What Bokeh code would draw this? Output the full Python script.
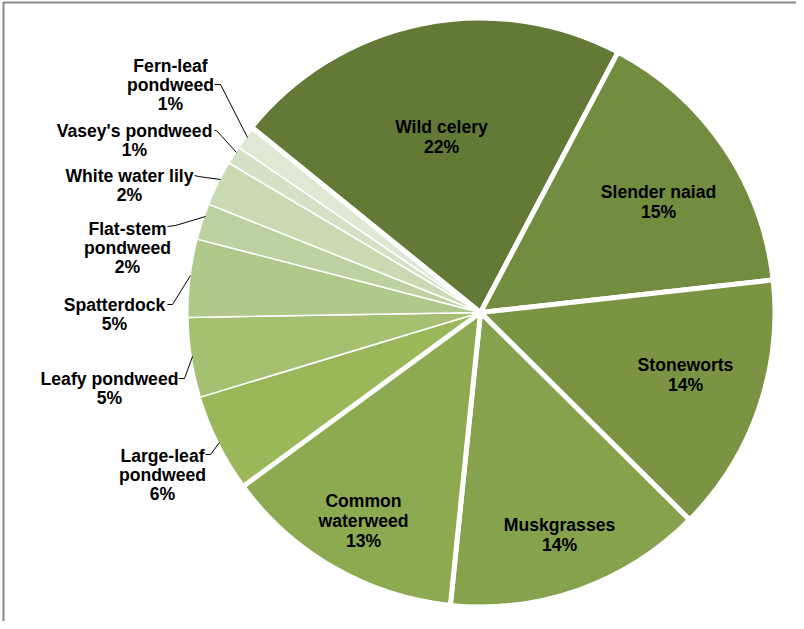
import numpy as np
from bokeh.plotting import figure
from bokeh.models import Range1d
from bokeh.embed import file_html
from bokeh.resources import INLINE
from bokeh.core.properties import value

# ---- data ----
species = ["Wild celery", "Slender naiad", "Stoneworts", "Muskgrasses",
           "Common waterweed", "Large-leaf pondweed", "Leafy pondweed",
           "Spatterdock", "Flat-stem pondweed", "White water lily",
           "Vasey's pondweed", "Fern-leaf pondweed"]
shares = [21.9, 15.5, 14.2, 14.2, 13.3, 5.4, 4.4, 4.3, 2.0, 2.5, 1.0, 1.3]
pct_labels = ["22%", "15%", "14%", "14%", "13%", "6%", "5%", "5%", "2%", "2%", "1%", "1%"]
name_lines = [["Wild celery"], ["Slender naiad"], ["Stoneworts"], ["Muskgrasses"],
              ["Common", "waterweed"], ["Large-leaf", "pondweed"], ["Leafy pondweed"],
              ["Spatterdock"], ["Flat-stem", "pondweed"], ["White water lily"],
              ["Vasey's pondweed"], ["Fern-leaf", "pondweed"]]

# ---- styles / layout ----
colors = ["#637A37", "#728C40", "#7A9444", "#86A24D", "#8EAA50", "#9AB75A",
          "#A5C070", "#B0C88A", "#BDD2A1", "#C9DAB2", "#D4E1C4", "#DFE8D5"]
thick = [True, True, True, True, True, False, False, False, False, False, False, False]
first_angle = 309.0  # degrees clockwise from 12 o'clock

W, H = 796, 621
def X(px): return px - 8
def Y(py): return 629 - py

cx, cy, R = X(488), Y(320), 292.0

# label anchor (page px): center x, first baseline y
label_pos = [(449, 134), (666, 199), (693, 372), (567, 532), (371, 508),
             (170, 463), (117, 386), (122, 312), (135, 236), (137, 183),
             (142, 138), (178, 73)]
inside = [True, True, True, True, True, False, False, False, False, False, False, False]
leaders = {
    5: [(213, 462), (218, 462), (227, 450)],
    6: [(186, 386), (192, 386), (200, 364)],
    7: [(175, 312), (180, 312), (198, 283)],
    8: [(175, 234), (183, 233), (213, 224)],
    9: [(202, 183), (206, 184), (228, 187)],
    10: [(222, 138), (224, 138), (244, 160)],
    11: [(222, 92), (228, 92), (255, 145)],
}

p = figure(width=W, height=H, output_backend="svg", toolbar_location=None,
           x_range=Range1d(0, W), y_range=Range1d(0, H), min_border=0)
p.axis.visible = False
p.grid.visible = False
p.outline_line_color = None
p.background_fill_color = "white"

# frame (top and left edges visible in the window)
p.line([X(11), X(11), W + 5], [-5, Y(10), Y(10)], line_color="#878787", line_width=2)

vals = np.array(shares, dtype=float)
frac = vals / vals.sum()
cum = np.concatenate([[0.0], np.cumsum(frac)]) * 360.0
theta_start = first_angle + cum[:-1]
theta_end = first_angle + cum[1:]
# convert clockwise-from-north to Bokeh (counter-clockwise from +x)
start_rad = np.deg2rad(90.0 - theta_end)
end_rad = np.deg2rad(90.0 - theta_start)

order = [i for i in range(len(species)) if not thick[i]] + [i for i in range(len(species)) if thick[i]]
for i in order:
    lw = 5.0 if thick[i] else 1.5
    p.wedge(x=cx, y=cy, radius=R + lw / 2.0, start_angle=start_rad[i], end_angle=end_rad[i],
            fill_color=colors[i], line_color="white", line_width=lw)

# leader lines
for i, pts in leaders.items():
    p.line([X(a) for a, b in pts], [Y(b) for a, b in pts], line_color="black", line_width=1)

# labels
font = value("Liberation Sans")
for i in range(len(species)):
    lx, ly = label_pos[i]
    lines = name_lines[i] + [pct_labels[i]]
    g = 20 if inside[i] else 19
    xs = [X(lx)] * len(lines)
    ys = [Y(ly + k * g) for k in range(len(lines))]
    p.text(x=xs, y=ys, text=lines, text_font=font, text_font_size="17.6px",
           text_font_style="bold", text_color="black", text_align="center",
           text_baseline="alphabetic")

open("out.html", "w").write(file_html(p, INLINE))
